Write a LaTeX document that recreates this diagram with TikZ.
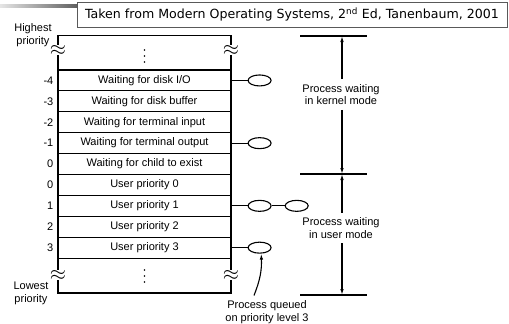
\documentclass[tikz,border=0pt]{standalone}
\usepackage{fontspec}
\setmainfont{Liberation Sans}
\newfontfamily\titlefont{DejaVu Sans}
\usetikzlibrary{shapes.geometric}
\usetikzlibrary{arrows.meta}
\usetikzlibrary{positioning}

\begin{document}
\begin{tikzpicture}[x=1pt,y=-1pt]
\tikzset{prio/.style={draw,line width=1.1pt,minimum width=173pt,minimum height=20.9pt,inner sep=0pt,font=\fontsize{11}{13}\selectfont},
  lvl/.style={anchor=east,inner sep=0pt,font=\fontsize{11}{13}\selectfont},
  proc/.style={draw,ellipse,line width=1.1pt,minimum width=23pt,minimum height=11pt,inner sep=0pt},
  note/.style={align=center,inner sep=0pt,font=\fontsize{11}{12.5}\selectfont},
  wave/.style={fill=white,inner sep=0pt,font=\fontsize{20}{20}\selectfont},
  updown/.style={line width=1.1pt,-{Latex[length=6pt,width=3.5pt]}}}
\useasboundingbox (0,0) rectangle (509,324);
\shade[left color=gray!20,right color=gray!75!black] (0,4) rectangle (77,7);
\node[draw=gray!70!black,line width=0.8pt,fill=white,minimum width=430pt,minimum height=25pt,inner sep=0pt,font=\titlefont\fontsize{12.6}{15}\selectfont](title) at (292,14.5){Taken from Modern Operating Systems, 2\textsuperscript{nd} Ed, Tanenbaum, 2001};
\node[note](high) at (33,35){Highest\\priority};
\node[note](low) at (31,293.5){Lowest\\priority};
\draw[line width=1.1pt] (58,35.5) rectangle (231,293);
\foreach \i/\lv/\txt in {1/-4/{Waiting for disk I/O},2/-3/{Waiting for disk buffer},3/-2/{Waiting for terminal input},4/-1/{Waiting for terminal output},5/0/{Waiting for child to exist},6/0/{User priority 0},7/1/{User priority 1},8/2/{User priority 2},9/3/{User priority 3}}{
  \node[prio](r\i) at (144.5,{59.55+20.9*\i}){\txt};
  \node[lvl](l\i) at (53.5,{59.55+20.9*\i}){\lv};
}
\foreach \y in {50,56,62,270,276,282}
  \fill (144.5,\y) circle (0.8pt);
\foreach \x/\s in {58/l,231/r}
  \foreach \y/\t in {50/t,275/b}
    \node[wave](wave\s\t) at (\x,\y){$\approx$};
\node[proc,right=16pt of r1](q1){};
\node[proc,right=16pt of r4](q4){};
\node[proc,right=16pt of r7](q7){};
\node[proc,right=13pt of q7](q7b){};
\node[proc,right=16pt of r9](q9){};
\draw[line width=1.1pt] (r1.east) -- (q1.west);
\draw[line width=1.1pt] (r4.east) -- (q4.west);
\draw[line width=1.1pt] (r7.east) -- (q7.west) (q7.east) -- (q7b.west);
\draw[line width=1.1pt] (r9.east) -- (q9.west);
\coordinate (ktop) at (342,36);
\coordinate (mid) at (342,174);
\coordinate (ubot) at (342,295);
\foreach \c in {ktop,mid,ubot}
  \draw[line width=1.1pt] ([xshift=-42pt]\c) -- ([xshift=25pt]\c);
\node[note,inner sep=5pt](kern) at (341,94.5){Process waiting\\in kernel mode};
\node[note,inner sep=5pt](user) at (341,228){Process waiting\\in user mode};
\draw[updown] (kern.north -| ktop) -- (ktop);
\draw[updown] (kern.south -| ktop) -- (mid);
\draw[updown] (user.north -| mid) -- (mid);
\draw[updown] (user.south -| ubot) -- (ubot);
\node[note](queued) at (267,312){Process queued\\on priority level 3};
\draw[updown] ([shift={(-13pt,5pt)}]queued.north) to[bend right=12] (q9.285);
\end{tikzpicture}
\end{document}
